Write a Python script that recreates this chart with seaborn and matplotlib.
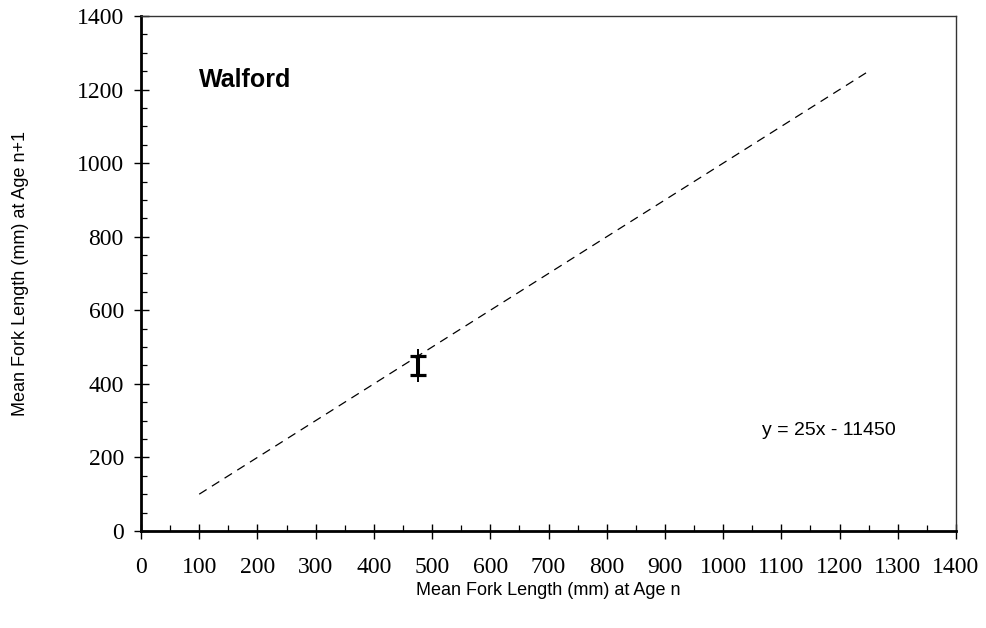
import numpy as np
import pandas as pd
import matplotlib
matplotlib.use("Agg")
import matplotlib.pyplot as plt
import seaborn as sns
from matplotlib.ticker import MultipleLocator

# 1:1 reference line (Walford plot)
line_x = [100, 1250]
line_y = [100, 1250]

# observed mean fork length pair
obs_x = [476]
obs_y = [450]
inner_lo, inner_hi = [424], [476]     # capped interval
outer_lo, outer_hi = [405], [495]     # full range

x_ticks = list(range(0, 1401, 100))
y_ticks = list(range(0, 1401, 200))

sns.set_style("ticks")
plt.rcParams["font.family"] = ["Liberation Sans", "DejaVu Sans"]
plt.rcParams["text.color"] = "black"
plt.rcParams["axes.labelcolor"] = "black"
plt.rcParams["xtick.color"] = "black"
plt.rcParams["ytick.color"] = "black"

fig = plt.figure(figsize=(9.86, 6.28), dpi=100)
ax = fig.add_axes([0.143, 0.1545, 0.8266, 0.82])

df_line = pd.DataFrame({"x": line_x, "y": line_y})
sns.lineplot(data=df_line, x="x", y="y", ax=ax, color="black", lw=0.9,
             linestyle=(0, (7, 5)))

ox = np.array(obs_x)
oy = np.array(obs_y)
ax.errorbar(ox, oy, yerr=[oy - np.array(outer_lo), np.array(outer_hi) - oy],
            fmt="none", ecolor="black", elinewidth=1.4, capsize=0, zorder=3)
ax.errorbar(ox, oy, yerr=[oy - np.array(inner_lo), np.array(inner_hi) - oy],
            fmt="none", ecolor="black", elinewidth=2.9, capsize=5.5,
            capthick=2.3, zorder=4)

ax.set_xlim(0, 1400)
ax.set_ylim(0, 1400)
ax.set_xticks(x_ticks)
ax.set_yticks(y_ticks)
ax.xaxis.set_minor_locator(MultipleLocator(50))
ax.yaxis.set_minor_locator(MultipleLocator(50))
ax.tick_params(which="major", direction="inout", length=10.8, width=1.0,
               color="black")
ax.tick_params(which="minor", direction="in", length=4.2, width=0.9,
               color="black")
ax.tick_params(axis="x", which="major", pad=13)
ax.tick_params(axis="y", which="major", pad=7)

for lab in ax.get_xticklabels() + ax.get_yticklabels():
    lab.set_fontfamily("Liberation Serif")
    lab.set_fontsize(17)

for side in ["left", "bottom"]:
    ax.spines[side].set_linewidth(2.0)
    ax.spines[side].set_color("black")
for side in ["top", "right"]:
    ax.spines[side].set_visible(True)
    ax.spines[side].set_linewidth(1.0)
    ax.spines[side].set_color("#333333")

ax.set_xlabel("Mean Fork Length (mm) at Age n", fontsize=13)
ax.set_ylabel("Mean Fork Length (mm) at Age n+1", fontsize=13)
ax.xaxis.set_label_coords(0.5, -0.099)
ax.yaxis.set_label_coords(-0.138, 0.5)
ax.xaxis.label.set_va("top")

ax.text(100, 1207, "Walford", fontsize=18, fontweight="bold",
        ha="left", va="baseline")
ax.text(1067, 261, "y = 25x - 11450", fontsize=14, ha="left", va="baseline")

fig.savefig("out.png", dpi=100, facecolor="white")
